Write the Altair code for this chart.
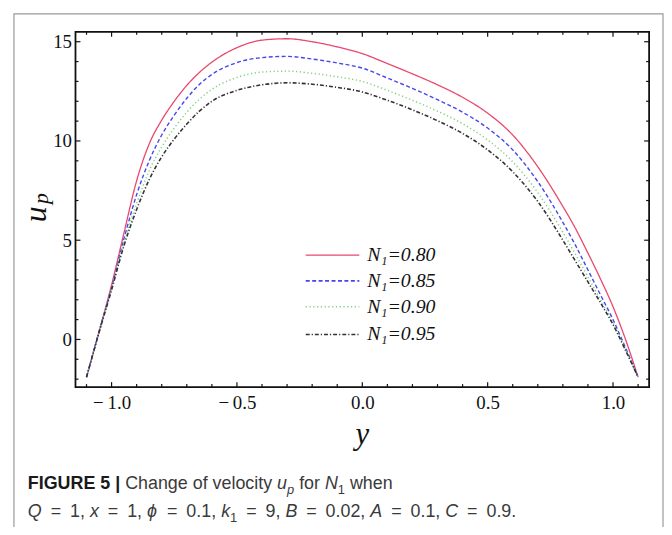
import altair as alt
import pandas as pd

# ---------------- data ----------------
Y_POS = [-1.1, -1.05, -1.0, -0.95, -0.9, -0.85, -0.8, -0.75, -0.7, -0.65, -0.6,
         -0.5, -0.4, -0.3, -0.2, -0.1, 0.0, 0.1, 0.2, 0.3, 0.4, 0.5, 0.6, 0.7,
         0.8, 0.85, 0.9, 0.95, 1.0, 1.05, 1.1]
U_080 = [-1.9, 0.4, 2.75, 5.4, 8.0, 9.85, 11.05, 12.0, 12.8, 13.45, 13.97,
         14.7, 15.08, 15.15, 15.0, 14.74, 14.4, 13.9, 13.38, 12.83, 12.2, 11.4, 10.3, 8.7,
         6.7, 5.6, 4.35, 3.05, 1.65, 0.0, -1.9]
U_085 = [-1.9, 0.4, 2.6, 5.1, 7.3, 9.0, 10.3, 11.3, 12.15, 12.85, 13.35,
         13.95, 14.2, 14.26, 14.13, 13.93, 13.67, 13.17, 12.65, 12.08, 11.45, 10.65, 9.55, 7.95,
         5.9, 4.75, 3.5, 2.25, 1.0, -0.42, -1.9]
U_090 = [-1.9, 0.35, 2.55, 4.9, 6.85, 8.5, 9.7, 10.65, 11.45, 12.1, 12.6,
         13.2, 13.47, 13.52, 13.41, 13.23, 13.0, 12.55, 12.05, 11.5, 10.87, 10.05, 8.95, 7.4,
         5.4, 4.3, 3.15, 2.0, 0.85, -0.5, -1.9]
U_095 = [-1.9, 0.35, 2.5, 4.75, 6.55, 8.05, 9.2, 10.1, 10.85, 11.5, 12.0,
         12.55, 12.83, 12.93, 12.86, 12.7, 12.47, 12.05, 11.57, 11.02, 10.38, 9.55, 8.45, 6.95,
         5.0, 3.95, 2.9, 1.85, 0.75, -0.55, -1.9]

SERIES = ["N\u2081=0.80", "N\u2081=0.85", "N\u2081=0.90", "N\u2081=0.95"]
COLORS = ["#e9486c", "#4646ee", "#7fcf7f", "#333333"]
DASHES = [[1, 0], [4, 2.5], [1.2, 2.6], [4, 2, 1.2, 2]]
WIDTHS = [1.3, 1.6, 1.6, 1.4]

X_MAJOR = [-1.0, -0.5, 0.0, 0.5, 1.0]
X_MINOR = [-1.1, -0.9, -0.8, -0.7, -0.6, -0.4, -0.3, -0.2, -0.1,
           0.1, 0.2, 0.3, 0.4, 0.6, 0.7, 0.8, 0.9, 1.1]
Y_MAJOR = [0, 5, 10, 15]
Y_MINOR = [-2, -1, 1, 2, 3, 4, 6, 7, 8, 9, 11, 12, 13, 14]

W, H = 578, 358
X_DOM = [-1.144, 1.144]
Y_DOM = [-2.4, 15.5]
SERIF = "Liberation Serif"
SANS = "Liberation Sans"

rows = []
for name, vals in zip(SERIES, [U_080, U_085, U_090, U_095]):
    for yp, u in zip(Y_POS, vals):
        rows.append({"ypos": yp, "u": u, "series": name})
df = pd.DataFrame(rows)

xs = alt.Scale(domain=X_DOM, nice=False, zero=False)
ys = alt.Scale(domain=Y_DOM, nice=False, zero=False)

x_axis = alt.Axis(values=X_MAJOR, ticks=False, tickSize=0, domain=False, grid=False,
                  labelExpr="datum.value < 0 ? '\u2212\u2009' + format(-datum.value, '.1f') : format(datum.value, '.1f')",
                  labelFont=SERIF, labelFontSize=19, labelColor="#111",
                  labelPadding=7, title=None)
y_axis = alt.Axis(values=Y_MAJOR, ticks=False, tickSize=0, domain=False, grid=False,
                  format="d", labelFont=SERIF, labelFontSize=19,
                  labelColor="#111", labelPadding=4, title=None)

lines = alt.Chart(df).mark_line(interpolate="monotone", clip=True).encode(
    x=alt.X("ypos:Q", scale=xs, axis=x_axis),
    y=alt.Y("u:Q", scale=ys, axis=y_axis),
    color=alt.Color("series:N", scale=alt.Scale(domain=SERIES, range=COLORS), legend=None),
    strokeDash=alt.StrokeDash("series:N", scale=alt.Scale(domain=SERIES, range=DASHES), legend=None),
    strokeWidth=alt.StrokeWidth("series:N", scale=alt.Scale(domain=SERIES, range=WIDTHS), legend=None),
    detail="series:N",
)

layers = [lines]

# inward frame ticks
def xticks(vals, length):
    d = pd.DataFrame({"ypos": vals})
    bot = alt.Chart(d).mark_rule(color="#111", strokeWidth=1.2).encode(
        x=alt.X("ypos:Q", scale=xs), y=alt.value(H), y2=alt.value(H - length))
    top = alt.Chart(d).mark_rule(color="#111", strokeWidth=1.2).encode(
        x=alt.X("ypos:Q", scale=xs), y=alt.value(0), y2=alt.value(length))
    return [bot, top]

def yticks(vals, length):
    d = pd.DataFrame({"u": vals})
    left = alt.Chart(d).mark_rule(color="#111", strokeWidth=1.2).encode(
        y=alt.Y("u:Q", scale=ys), x=alt.value(0), x2=alt.value(length))
    right = alt.Chart(d).mark_rule(color="#111", strokeWidth=1.2).encode(
        y=alt.Y("u:Q", scale=ys), x=alt.value(W), x2=alt.value(W - length))
    return [left, right]

layers += xticks(X_MAJOR, 5) + xticks(X_MINOR, 3) + yticks(Y_MAJOR, 5) + yticks(Y_MINOR, 3)

one = pd.DataFrame({"k": [0]})

def txt(t, x, y, size, family, style="normal", weight="normal", color="#000",
        align="left", baseline="middle", angle=0):
    m = alt.Chart(one).mark_text(text=t, align=align, baseline=baseline, font=family,
                                 fontSize=size, fontStyle=style, fontWeight=weight,
                                 color=color, angle=angle)
    return m.encode(x=alt.value(x), y=alt.value(y))

# axis titles
layers.append(txt("u", -40, 184, 32, SERIF, style="italic", color="#111",
                  align="center", angle=270))
layers.append(txt("p", -35, 168, 22, SERIF, style="italic", color="#111",
                  align="center", angle=270))
layers.append(txt("y", 289, 406, 31, SERIF, style="italic", color="#111",
                  align="center"))

# legend (manual, inside plot)
LEG_Y = [225, 251, 277, 305]
for name, col, dash, sw, ly in zip(SERIES, COLORS, DASHES, WIDTHS, LEG_Y):
    layers.append(alt.Chart(one).mark_rule(color=col, strokeDash=dash, strokeWidth=sw).encode(
        x=alt.value(232), x2=alt.value(286), y=alt.value(ly)))
    layers.append(txt(name, 294, ly, 20, SERIF, style="italic", color="#111"))

# outer figure border
layers.append(alt.Chart(one).mark_rect(fill="white", fillOpacity=0, stroke="#9a9a9a",
                                       strokeWidth=1.2).encode(
    x=alt.value(-62), x2=alt.value(592), y=alt.value(-18), y2=alt.value(600)))

# caption
REG = {' ': 278, ',': 278, '.': 278, '=': 584, '|': 260, '\u2002': 500,
       'A': 667, 'B': 667, 'C': 722, 'N': 722, 'Q': 778, 'a': 556, 'c': 500,
       'e': 556, 'f': 278, 'g': 556, 'h': 556, 'i': 222, 'k': 500, 'l': 222,
       'n': 556, 'o': 556, 'p': 556, 'r': 333, 't': 278, 'u': 556, 'v': 500,
       'w': 722, 'x': 500, 'y': 500, '\u03d5': 620}
BOLD = {' ': 278, 'F': 611, 'I': 278, 'G': 778, 'U': 722, 'R': 722, 'E': 667, '|': 280}
SPACES = ' \u2002'

CAP1 = [("FIGURE 5 |", "bold"), (" Change of velocity ", "reg"), ("u", "it"), ("p", "subi"),
        (" for ", "reg"), ("N", "it"), ("1", "sub"), (" when", "reg")]
CAP2 = [("Q", "it"), ("\u2002=", "reg"), ("\u20021,", "reg"), (" x", "it"), ("\u2002=", "reg"),
        ("\u20021,", "reg"), (" \u03d5", "it"), ("\u2002=", "reg"), ("\u20020.1,", "reg"),
        (" k", "it"), ("1", "sub"), ("\u2002=", "reg"), ("\u20029,", "reg"),
        (" B", "it"), ("\u2002=", "reg"), ("\u20020.02,", "reg"),
        (" A", "it"), ("\u2002=", "reg"), ("\u20020.1,", "reg"),
        (" C", "it"), ("\u2002=", "reg"), ("\u20020.9.", "reg")]

def caption(pieces, x0, y0, size):
    out = []
    x = x0
    for t, st in pieces:
        fs = size * 0.72 if st in ("sub", "subi") else size
        table = BOLD if st == "bold" else REG
        shown = t.strip(SPACES)
        lead = t[:len(t) - len(t.lstrip(SPACES))]
        lead_w = sum(table.get(c, REG[c]) for c in lead) * fs / 1000
        w = sum(table.get(c, 556) for c in t) * fs / 1000
        yy = y0 + 5 if st in ("sub", "subi") else y0
        style = "italic" if st in ("it", "subi") else "normal"
        weight = "bold" if st == "bold" else "normal"
        color = "#1a1a1a" if st == "bold" else "#3a3a3a"
        out.append(txt(shown, x + lead_w, yy, fs, SANS, style=style,
                       weight=weight, color=color, baseline="alphabetic"))
        x += w
    return out

layers += caption(CAP1, -48, 461, 18)
layers += caption(CAP2, -48, 489, 18)

chart = alt.layer(*layers).properties(
    width=W, height=H,
    autosize=alt.AutoSizeParams(type="none"),
    padding={"left": 68, "top": 22, "right": 15, "bottom": 139},
    background="white",
).configure_view(stroke="#111", strokeWidth=1.8).configure_axis(
    labelFont=SERIF, labelFontSize=19
)

chart.save("out.html", embed_options={"renderer": "svg", "actions": False})
